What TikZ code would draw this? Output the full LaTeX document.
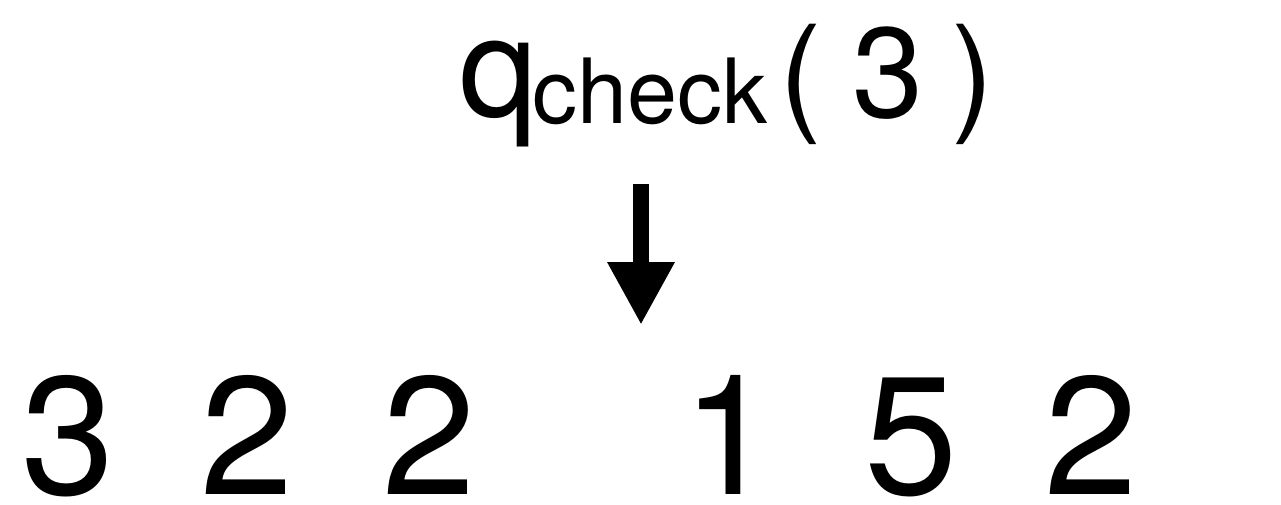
\documentclass[tikz,border=0pt]{standalone}
\usepackage{fontspec}
\setmainfont{TeX Gyre Heros}
\usetikzlibrary{arrows.meta}
\begin{document}
\begin{tikzpicture}[x=1pt,y=-1pt,
  digit/.style={font=\fontsize{168}{168}\selectfont, inner sep=0pt, anchor=base},
  big/.style={font=\fontsize{140}{140}\selectfont, inner sep=0pt, anchor=base west},
  sub/.style={font=\fontsize{90}{90}\selectfont, inner sep=0pt, anchor=base west},
  paren/.style={font=\fontsize{128}{128}\selectfont, inner sep=0pt, anchor=base west},
  pointer/.style={line width=16pt, -{Triangle[width=63pt,length=63pt]}}]
\useasboundingbox[fill=white] (0,0) rectangle (1281,504);
\node[big] (q) at (459,116) {q};
\node[sub] (check) at (532,123) {check};
\node[paren] (arg) at (779,117) {(\hspace{31pt}3\hspace{28pt})};
\coordinate (from) at (641,184);
\coordinate (to) at (641,325);
\draw[pointer] (from) -- (to);
\node[digit] (d1) at (68,494) {3};
\node[digit] (d2) at (247,494) {2};
\node[digit] (d3) at (429,494) {2};
\node[digit] (d4) at (729,494) {1};
\node[digit] (d5) at (911,494) {5};
\node[digit] (d6) at (1091,494) {2};
\end{tikzpicture}
\end{document}
